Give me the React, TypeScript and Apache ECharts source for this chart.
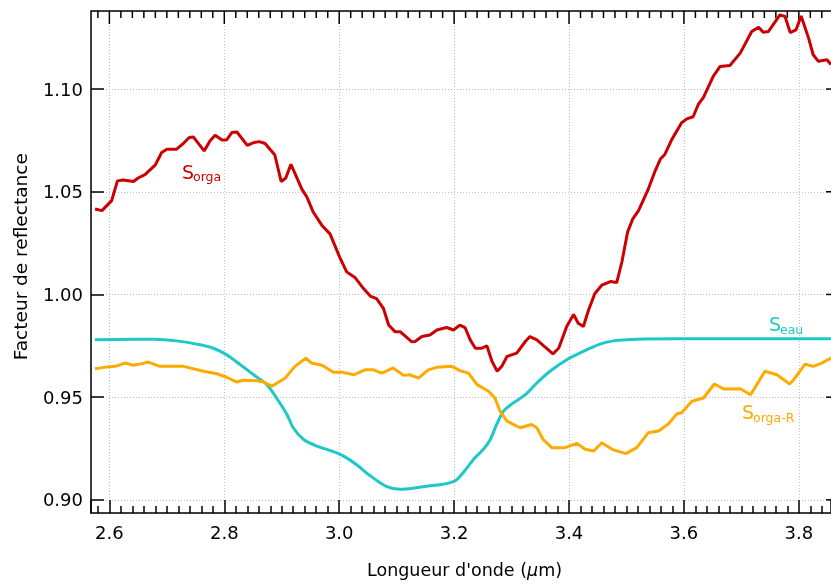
import React, { useEffect, useRef } from "react";
import * as echarts from "echarts";

// Wavelength (µm) and reflectance factor for each spectrum
const orgaX = [2.575, 2.587, 2.604, 2.614, 2.624, 2.642, 2.650, 2.662, 2.680, 2.691, 2.700, 2.717, 2.729, 2.739, 2.746, 2.765, 2.775, 2.784, 2.796, 2.804, 2.813, 2.822, 2.840, 2.851, 2.861, 2.871, 2.888, 2.899, 2.907, 2.916, 2.926, 2.935, 2.944, 2.955, 2.970, 2.984, 3.002, 3.013, 3.028, 3.042, 3.054, 3.065, 3.077, 3.086, 3.097, 3.106, 3.126, 3.132, 3.144, 3.158, 3.170, 3.187, 3.199, 3.210, 3.219, 3.228, 3.237, 3.248, 3.257, 3.266, 3.275, 3.283, 3.292, 3.309, 3.324, 3.332, 3.344, 3.361, 3.372, 3.382, 3.396, 3.408, 3.416, 3.425, 3.434, 3.445, 3.457, 3.472, 3.483, 3.492, 3.502, 3.511, 3.521, 3.538, 3.550, 3.559, 3.567, 3.579, 3.596, 3.605, 3.616, 3.625, 3.634, 3.651, 3.663, 3.680, 3.698, 3.718, 3.730, 3.738, 3.747, 3.759, 3.767, 3.776, 3.785, 3.795, 3.804, 3.817, 3.825, 3.834, 3.849, 3.856];
const orgaY = [1.0416, 1.0408, 1.0457, 1.0553, 1.0557, 1.0550, 1.0567, 1.0583, 1.0631, 1.0691, 1.0707, 1.0707, 1.0736, 1.0764, 1.0767, 1.0699, 1.0747, 1.0775, 1.0752, 1.0752, 1.0788, 1.0791, 1.0726, 1.0739, 1.0744, 1.0735, 1.0679, 1.0549, 1.0567, 1.0634, 1.0570, 1.0513, 1.0473, 1.0400, 1.0336, 1.0295, 1.0174, 1.0110, 1.0081, 1.0030, 0.9992, 0.9980, 0.9932, 0.9851, 0.9819, 0.9819, 0.9770, 0.9771, 0.9795, 0.9803, 0.9827, 0.9839, 0.9827, 0.9851, 0.9839, 0.9779, 0.9738, 0.9738, 0.9750, 0.9674, 0.9626, 0.9650, 0.9698, 0.9714, 0.9771, 0.9795, 0.9779, 0.9738, 0.9711, 0.9738, 0.9844, 0.9903, 0.9860, 0.9844, 0.9924, 1.0005, 1.0045, 1.0063, 1.0058, 1.0158, 1.0304, 1.0368, 1.0408, 1.0513, 1.0602, 1.0659, 1.0683, 1.0755, 1.0836, 1.0855, 1.0865, 1.0925, 1.0960, 1.1062, 1.1110, 1.1115, 1.1175, 1.1280, 1.1301, 1.1277, 1.1280, 1.1328, 1.1361, 1.1353, 1.1275, 1.1288, 1.1356, 1.1248, 1.1167, 1.1135, 1.1143, 1.1119];

const eauX = [2.575, 2.642, 2.677, 2.717, 2.758, 2.781, 2.804, 2.828, 2.851, 2.874, 2.891, 2.909, 2.920, 2.938, 2.961, 2.990, 3.007, 3.031, 3.054, 3.083, 3.106, 3.129, 3.158, 3.181, 3.202, 3.216, 3.234, 3.251, 3.263, 3.274, 3.286, 3.303, 3.324, 3.344, 3.367, 3.396, 3.425, 3.454, 3.477, 3.518, 3.588, 3.856];
const eauY = [0.9779, 0.9782, 0.9782, 0.9774, 0.9755, 0.9738, 0.9706, 0.9658, 0.9609, 0.9561, 0.9496, 0.9416, 0.9351, 0.9294, 0.9262, 0.9235, 0.9214, 0.9170, 0.9117, 0.9064, 0.9052, 0.9057, 0.9069, 0.9076, 0.9093, 0.9133, 0.9198, 0.9246, 0.9294, 0.9367, 0.9432, 0.9472, 0.9512, 0.9569, 0.9626, 0.9682, 0.9723, 0.9758, 0.9774, 0.9782, 0.9784, 0.9784];

const orgaRX = [2.575, 2.590, 2.610, 2.627, 2.642, 2.653, 2.668, 2.688, 2.729, 2.764, 2.787, 2.804, 2.821, 2.833, 2.857, 2.868, 2.883, 2.906, 2.923, 2.942, 2.952, 2.970, 2.990, 3.005, 3.025, 3.045, 3.060, 3.074, 3.094, 3.112, 3.123, 3.138, 3.155, 3.170, 3.196, 3.210, 3.225, 3.240, 3.260, 3.271, 3.280, 3.292, 3.315, 3.335, 3.344, 3.355, 3.370, 3.393, 3.414, 3.428, 3.443, 3.457, 3.475, 3.499, 3.518, 3.538, 3.556, 3.573, 3.588, 3.596, 3.614, 3.634, 3.653, 3.669, 3.698, 3.716, 3.741, 3.762, 3.784, 3.791, 3.811, 3.825, 3.840, 3.856];
const orgaRY = [0.9638, 0.9645, 0.9650, 0.9666, 0.9655, 0.9661, 0.9671, 0.9650, 0.9650, 0.9626, 0.9614, 0.9597, 0.9574, 0.9582, 0.9580, 0.9574, 0.9553, 0.9593, 0.9650, 0.9690, 0.9666, 0.9655, 0.9621, 0.9622, 0.9609, 0.9633, 0.9633, 0.9617, 0.9642, 0.9606, 0.9609, 0.9593, 0.9633, 0.9645, 0.9650, 0.9629, 0.9617, 0.9561, 0.9529, 0.9496, 0.9432, 0.9383, 0.9351, 0.9367, 0.9351, 0.9294, 0.9254, 0.9254, 0.9275, 0.9246, 0.9238, 0.9278, 0.9246, 0.9225, 0.9254, 0.9327, 0.9335, 0.9370, 0.9419, 0.9424, 0.9480, 0.9496, 0.9564, 0.9540, 0.9541, 0.9512, 0.9626, 0.9609, 0.9564, 0.9585, 0.9661, 0.9650, 0.9666, 0.9690];

// Tick positions for the mirrored top and right axes
const xMajorTicks = [2.6, 2.8, 3.0, 3.2, 3.4, 3.6, 3.8];
const xMinorTicks = [2.58, 2.62, 2.64, 2.66, 2.68, 2.7, 2.72, 2.74, 2.76, 2.78, 2.82, 2.84, 2.86, 2.88, 2.9, 2.92, 2.94, 2.96, 2.98, 3.02, 3.04, 3.06, 3.08, 3.1, 3.12, 3.14, 3.16, 3.18, 3.22, 3.24, 3.26, 3.28, 3.3, 3.32, 3.34, 3.36, 3.38, 3.42, 3.44, 3.46, 3.48, 3.5, 3.52, 3.54, 3.56, 3.58, 3.62, 3.64, 3.66, 3.68, 3.7, 3.72, 3.74, 3.76, 3.78, 3.82, 3.84, 3.86];
const yMajorTicks = [0.9, 0.95, 1.0, 1.05, 1.1];

const xTitle = "Longueur d'onde ({mu|μ}m)";
const yTitle = "Facteur de reflectance";

const RED = "#cc0000";
const CYAN = "#1ec8c8";
const ORANGE = "#ffaa00";
const FONT = "DejaVu Sans";

const zip = (xs: number[], ys: number[]) => xs.map((x, i) => [x, ys[i]]);

const X_MIN = 2.568;
const X_MAX = 3.856; // visible right edge
const X_FRAME = 3.87; // right frame of the plot, just beyond the picture
const Y_MIN = 0.8936;
const Y_MAX = 1.138;

export default function App() {
  const ref = useRef<HTMLDivElement>(null);
  useEffect(() => {
    if (!ref.current) return;
    const chart = echarts.init(ref.current, undefined, { renderer: "svg" });
    const sText = (x: number, y: number, t: string, size: number, color: string) => ({
      type: "text",
      x,
      y,
      style: { text: t, fill: color, font: `${size}px "${FONT}"`, verticalAlign: "middle", align: "left" },
    });
    const frameStyle = { stroke: "#000", lineWidth: 1.5 };
    const topTick = (len: number) => (p: any, api: any) => {
      const c = api.coord([api.value(0), Y_MAX]);
      return { type: "line", shape: { x1: c[0], y1: c[1], x2: c[0], y2: c[1] + len }, style: frameStyle };
    };
    const rightTick = (len: number) => (p: any, api: any) => {
      const c = api.coord([X_FRAME, api.value(1)]);
      return { type: "line", shape: { x1: c[0], y1: c[1], x2: c[0] - len, y2: c[1] }, style: frameStyle };
    };
    const topLine = (p: any, api: any) => {
      const a = api.coord([X_MIN, Y_MAX]);
      const b = api.coord([X_FRAME, Y_MAX]);
      return { type: "line", shape: { x1: a[0], y1: a[1], x2: b[0], y2: b[1] }, style: frameStyle };
    };
    chart.setOption({
      animation: false,
      grid: { left: 91, top: 11, right: 0, bottom: 68.3 },
      xAxis: [
        {
          type: "value",
          min: X_MIN,
          max: X_MAX,
          minInterval: 0.2,
          maxInterval: 0.2,
          splitNumber: 7,
          name: xTitle,
          nameLocation: "middle",
          nameGap: 48,
          nameTextStyle: {
            fontFamily: FONT,
            fontSize: 17.5,
            color: "#000",
            padding: [0, 0, 0, 7],
            rich: { mu: { fontFamily: FONT, fontSize: 17.5, fontStyle: "italic", color: "#000" } },
          },
          axisLine: { show: true, onZero: false, lineStyle: { color: "#000", width: 1.5 } },
          axisTick: { show: true, inside: true, length: 13, lineStyle: { color: "#000", width: 1.5 } },
          minorTick: { show: true, splitNumber: 10, length: 7, lineStyle: { color: "#000", width: 1.5 } },
          axisLabel: {
            show: true,
            margin: 10,
            fontFamily: FONT,
            fontSize: 18,
            color: "#000",
            showMinLabel: false,
            showMaxLabel: false,
            formatter: (v: number) => v.toFixed(1),
          },
          splitLine: { show: true, lineStyle: { color: "#bdbdbd", width: 1, type: [1, 2] } },
        },
      ],
      yAxis: [
        {
          type: "value",
          min: Y_MIN,
          max: Y_MAX,
          minInterval: 0.05,
          maxInterval: 0.05,
          splitNumber: 5,
          axisLine: { show: true, onZero: false, lineStyle: { color: "#000", width: 1.5 } },
          axisTick: { show: true, inside: true, length: 13, lineStyle: { color: "#000", width: 1.5 } },
          axisLabel: {
            show: true,
            margin: 8,
            fontFamily: FONT,
            fontSize: 18,
            color: "#000",
            showMinLabel: false,
            showMaxLabel: false,
            formatter: (v: number) => v.toFixed(2),
          },
          splitLine: { show: true, lineStyle: { color: "#bdbdbd", width: 1, type: [1, 2] } },
        },
      ],
      series: [
        {
          name: "S_orga",
          type: "line",
          data: zip(orgaX, orgaY),
          showSymbol: false,
          lineStyle: { color: RED, width: 3 },
          itemStyle: { color: RED },
        },
        {
          name: "S_eau",
          type: "line",
          data: zip(eauX, eauY),
          showSymbol: false,
          smooth: 0.3,
          lineStyle: { color: CYAN, width: 3 },
          itemStyle: { color: CYAN },
        },
        {
          name: "S_orga-R",
          type: "line",
          data: zip(orgaRX, orgaRY),
          showSymbol: false,
          lineStyle: { color: ORANGE, width: 3 },
          itemStyle: { color: ORANGE },
        },
        { name: "topFrame", type: "custom", data: [[3.2, 1.0]], renderItem: topLine },
        { name: "topMajor", type: "custom", data: xMajorTicks.map((v) => [v, 1.0]), renderItem: topTick(13) },
        { name: "topMinor", type: "custom", data: xMinorTicks.map((v) => [v, 1.0]), renderItem: topTick(7) },
        { name: "rightMajor", type: "custom", data: yMajorTicks.map((v) => [3.2, v]), renderItem: rightTick(13) },
      ],
      graphic: [
        {
          type: "text",
          x: 20.5,
          y: 256.7,
          rotation: Math.PI / 2,
          style: { text: yTitle, fill: "#000", font: `18.5px "${FONT}"`, align: "center", verticalAlign: "middle" },
        },
        sText(182, 171.5, "S", 19, RED),
        sText(193, 176.5, "orga", 12.5, RED),
        sText(769, 323.5, "S", 19, CYAN),
        sText(780, 329, "eau", 12.5, CYAN),
        sText(742, 411.5, "S", 19, ORANGE),
        sText(753, 417, "orga-R", 12.5, ORANGE),
      ],
    });
    return () => chart.dispose();
  }, []);
  return <div ref={ref} style={{ position: "fixed", left: 0, top: 0, width: 831, height: 584 }} />;
}
